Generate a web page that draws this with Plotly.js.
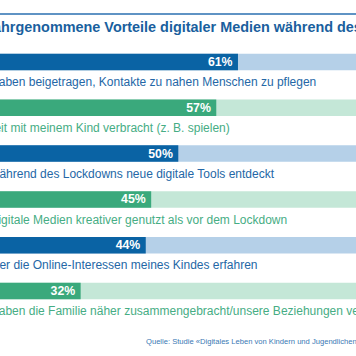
<!DOCTYPE html>
<html><head><meta charset="utf-8">
<script src="https://cdn.plot.ly/plotly-3.0.1.min.js"></script>
<style>html,body{margin:0;padding:0;background:#fff;overflow:hidden}#chart{width:356px;height:356px}</style>
</head><body><div id="chart"></div>
<script>
const labels = [
  "Digitale Medien haben beigetragen, Kontakte zu nahen Menschen zu pflegen",
  "Ich habe mehr Zeit mit meinem Kind verbracht (z. B. spielen)",
  "Mein Kind hat während des Lockdowns neue digitale Tools entdeckt",
  "Mein Kind hat digitale Medien kreativer genutzt als vor dem Lockdown",
  "Ich habe mehr über die Online-Interessen meines Kindes erfahren",
  "Digitale Medien haben die Familie näher zusammengebracht/unsere Beziehungen verbessert"
];
const values = [61, 57, 50, 45, 44, 32];
const barColors = ["#0a63a4", "#3aa97c", "#0a63a4", "#3aa97c", "#0a63a4", "#3aa97c"];
const trackColors = ["#b5d0e8", "#c4e7d7", "#b5d0e8", "#c4e7d7", "#b5d0e8", "#c4e7d7"];
const labelColors = ["#2467a6", "#46ad84", "#2467a6", "#46ad84", "#2467a6", "#46ad84"];
const titleText = "Wahrgenommene Vorteile digitaler Medien während des Lockdowns";
const sourceText = "Quelle: Studie «Digitales Leben von Kindern und Jugendlichen» (2021)";

const W = 356, H = 356;
const FONT = "Liberation Sans, Arial, sans-serif";
const cv = document.createElement('canvas').getContext('2d');
function tw(t, px, bold){ cv.font = (bold?'bold ':'') + px + 'px "Liberation Sans"'; return cv.measureText(t).width; }

const idx = values.map((v,i)=>i);
const full = values.map(()=>100);
const pct = values.map(v => v + '%\u2009');

const PAD = 2;
const LBL = 12;
const ends = [316, 230, 275, 287, 258];
const x1left = ends[0] - tw(labels[0], LBL, false);
const annotations = labels.map((t,i)=>{
  const base = {xref:'paper', yref:'y', y:i+0.44, text:t, showarrow:false,
    font:{family:FONT, size:LBL, color:labelColors[i]}, yanchor:'middle'};
  if(i<5){ base.x = (ends[i]+PAD)/W; base.xanchor='right'; }
  else { base.x = (x1left-PAD)/W; base.xanchor='left'; }
  return base;
});
const visPart = "hrgenommene Vorteile digitaler Medien während de";
const TS = 15 * 353 / tw(visPart, 15, true);
annotations.push({xref:'paper', yref:'paper', x:(1 - PAD - tw("Wa", TS, true))/W, xanchor:'left',
  y:1-27/H, yanchor:'middle', text:'<b>'+titleText+'</b>', showarrow:false,
  font:{family:FONT, size:TS, color:'#1a5f9e'}});
annotations.push({xref:'paper', yref:'paper', x:(146-PAD)/W, xanchor:'left',
  y:1-341/H, yanchor:'middle', text:sourceText, showarrow:false,
  font:{family:FONT, size:7.6, color:'#3a78b4'}});

const data = [
  {type:'bar', orientation:'h', y:idx, x:full, marker:{color:trackColors, line:{width:0}},
   width:0.36, hoverinfo:'skip', showlegend:false},
  {type:'bar', orientation:'h', y:idx, x:values, marker:{color:barColors, line:{width:0}},
   width:0.36, text:pct, textposition:'inside', insidetextanchor:'end', constraintext:'none',
   textangle:0, textfont:{family:FONT, size:12.3, color:'#ffffff'},
   texttemplate:'<b>%{text}</b>', showlegend:false}
];
const layout = {
  width:W, height:H, margin:{l:0,r:0,t:0,b:0}, paper_bgcolor:'#fff', plot_bgcolor:'#fff',
  barmode:'overlay', showlegend:false,
  xaxis:{range:[17.13, 82.76], visible:false, fixedrange:true},
  yaxis:{range:[6.419, -1.354], visible:false, fixedrange:true},
  annotations:annotations,
  shapes:[{type:'line', xref:'paper', yref:'paper', x0:0, x1:1, y0:1-14/H, y1:1-14/H,
    line:{color:'#2a6fb0', width:1.3}}]
};
Plotly.newPlot('chart', data, layout, {staticPlot:true, displayModeBar:false});
</script></body></html>
